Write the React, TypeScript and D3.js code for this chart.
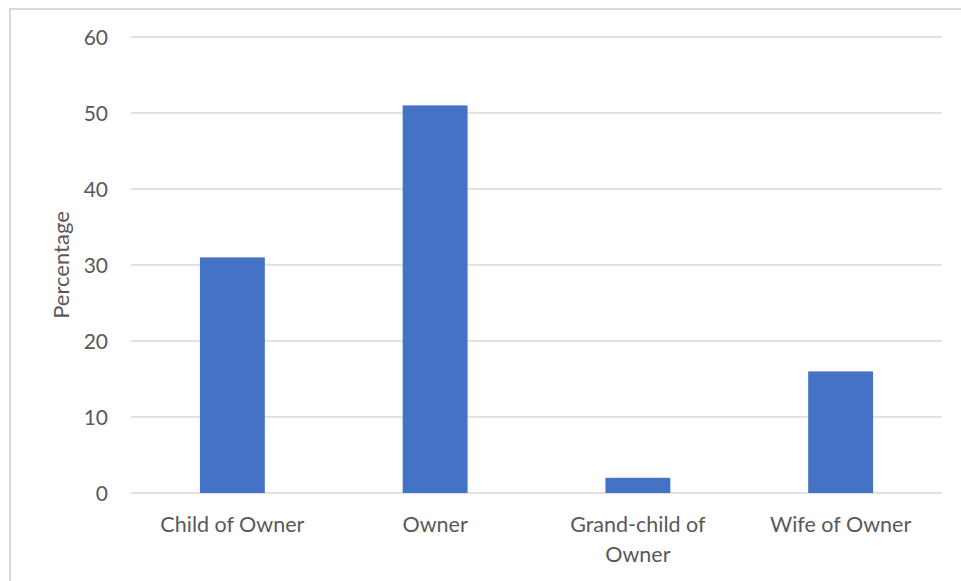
import React, { useEffect, useRef } from "react";
import * as d3 from "d3";

const categories = ["Child of Owner", "Owner", "Grand-child of Owner", "Wife of Owner"];
const values = [31, 51, 2, 16];
const yTicks = [0, 10, 20, 30, 40, 50, 60];

const W = 961;
const H = 581;
const M = { left: 131, right: 19, top: 37, bottom: 88 };

export default function App() {
  const ref = useRef<SVGSVGElement>(null);
  useEffect(() => {
    const svg = d3.select(ref.current);
    svg.selectAll("*").remove();
    const font = "Lato, sans-serif";
    const fs = 21.5;
    const x = d3.scaleBand<string>().domain(categories).range([M.left, W - M.right]).padding(0);
    const y = d3.scaleLinear().domain([0, 60]).range([H - M.bottom, M.top]);

    svg.append("rect").attr("x", 10).attr("y", 9).attr("width", W).attr("height", H)
      .attr("fill", "white").attr("stroke", "#d9d9d9").attr("stroke-width", 2);

    const g = svg.append("g");
    g.selectAll("line.grid").data(yTicks).join("line")
      .attr("x1", M.left).attr("x2", W - M.right)
      .attr("y1", (d) => y(d)).attr("y2", (d) => y(d))
      .attr("stroke", "#d9d9d9").attr("stroke-width", 1.5);

    g.selectAll("text.tick").data(yTicks).join("text")
      .attr("x", 108).attr("y", (d) => y(d)).attr("dy", "0.36em")
      .attr("text-anchor", "end").attr("font-family", font).attr("font-size", 21)
      .attr("fill", "#595959").text((d) => d);

    const bw = x.bandwidth() * 0.32;
    g.selectAll("rect.bar").data(values).join("rect")
      .attr("x", (_, i) => x(categories[i])! + x.bandwidth() / 2 - bw / 2)
      .attr("width", bw)
      .attr("y", (d) => y(d))
      .attr("height", (d) => y(0) - y(d))
      .attr("fill", "#4472c4");

    const labels = g.selectAll("text.cat").data(categories).join("text")
      .attr("x", (d) => x(d)! + x.bandwidth() / 2)
      .attr("y", 532)
      .attr("text-anchor", "middle").attr("font-family", font).attr("font-size", fs)
      .attr("fill", "#595959");
    labels.each(function (d) {
      const t = d3.select(this);
      const words = d.split(" ");
      let line: string[] = [];
      let tspan = t.append("tspan").attr("x", t.attr("x")).attr("dy", 0);
      for (const w of words) {
        line.push(w);
        tspan.text(line.join(" "));
        if ((tspan.node() as SVGTSpanElement).getComputedTextLength() > 175 && line.length > 1) {
          line.pop();
          tspan.text(line.join(" "));
          line = [w];
          tspan = t.append("tspan").attr("x", t.attr("x")).attr("dy", 30).text(w);
        }
      }
    });

    g.append("text")
      .attr("transform", `translate(69, ${(y(0) + y(60)) / 2}) rotate(-90)`)
      .attr("text-anchor", "middle").attr("font-family", font).attr("font-size", 22)
      .attr("fill", "#595959").text("Percentage");
  }, []);
  return (
    <svg ref={ref} width={W} height={H} style={{ position: "absolute", left: 0, top: 0 }} />
  );
}
